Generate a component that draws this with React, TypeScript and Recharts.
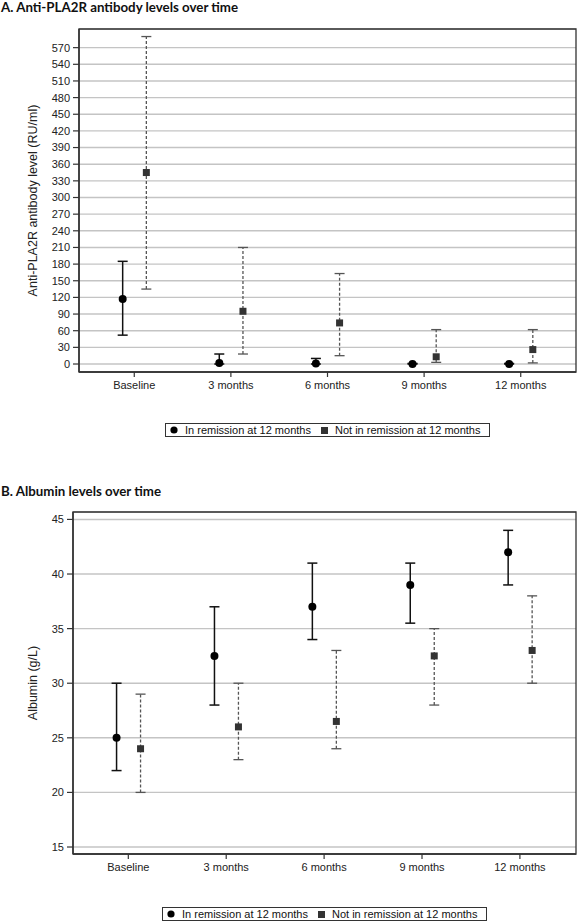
import React from 'react';
import {
  ComposedChart,
  Scatter,
  XAxis,
  YAxis,
  CartesianGrid,
  ErrorBar,
  ReferenceArea,
} from 'recharts';

const categories = ['Baseline', '3 months', '6 months', '9 months', '12 months'];
const legendLabels = ['In remission at 12 months', 'Not in remission at 12 months'];

// Panel A: Anti-PLA2R (RU/ml)
const pla2rRemission = [117, 2, 1, 0, 0];
const pla2rRemissionLow = [52, 0, 0, 0, 0];
const pla2rRemissionHigh = [185, 18, 10, 1, 1];
const pla2rNot = [345, 95, 74, 13, 26];
const pla2rNotLow = [135, 18, 15, 3, 2];
const pla2rNotHigh = [590, 210, 163, 62, 62];
const pla2rTicks = [0, 30, 60, 90, 120, 150, 180, 210, 240, 270, 300, 330, 360, 390, 420, 450, 480, 510, 540, 570];

// Panel B: Albumin (g/L)
const albRemission = [25, 32.5, 37, 39, 42];
const albRemissionLow = [22, 28, 34, 35.5, 39];
const albRemissionHigh = [30, 37, 41, 41, 44];
const albNot = [24, 26, 26.5, 32.5, 33];
const albNotLow = [20, 23, 24, 28, 30];
const albNotHigh = [29, 30, 33, 35, 38];
const albTicks = [15, 20, 25, 30, 35, 40, 45];

const catTicks = categories.map((_, i) => i);
const OFF_REM = -0.12;
const OFF_NOT = 0.125;

type Pt = { x: number; y: number; err: number[] };

const makeSeries = (vals: number[], lows: number[], highs: number[], off: number): Pt[] =>
  vals.map((v, i) => ({ x: i + off, y: v, err: [v - lows[i], highs[i] - v] }));

const makeCaps = (lows: number[], highs: number[], off: number) =>
  lows.flatMap((lo, i) => [
    { x: i + off, y: lo },
    { x: i + off, y: highs[i] },
  ]);

const FONT = '"Liberation Sans", Arial, sans-serif';

const CircleShape = (p: any) => <circle cx={p.cx} cy={p.cy} r={4} fill="#000" />;
const SquareShape = (p: any) => (
  <rect x={p.cx - 3.5} y={p.cy - 3.5} width={7} height={7} fill="#333" />
);
const CapShape = (p: any) => (
  <line x1={p.cx - 5} x2={p.cx + 5} y1={p.cy} y2={p.cy} stroke="#555" strokeWidth={1.3} />
);

type PanelProps = {
  rem: Pt[];
  not: Pt[];
  caps: { x: number; y: number }[];
  ticks: number[];
  yDomain: [number, number];
  xDomain: [number, number];
  height: number;
  marginTop: number;
  yWidth: number;
  yLabel: string;
  labelX: number;
};

function Panel(props: PanelProps) {
  const { rem, not, caps, ticks, yDomain, xDomain, height, marginTop, yWidth, yLabel, labelX } = props;
  const xAxisH = 28;
  const plotH = height - marginTop - xAxisH;
  const cy = marginTop + plotH / 2;
  const renderLabel = () => (
    <text
      x={labelX}
      y={cy}
      transform={`rotate(-90, ${labelX}, ${cy})`}
      textAnchor="middle"
      dominantBaseline="central"
      fontSize={12.5}
      fill="#222"
      fontFamily={FONT}
    >
      {yLabel}
    </text>
  );
  return (
    <ComposedChart
      width={578}
      height={height}
      margin={{ top: marginTop, right: 2, bottom: 0, left: 0 }}
      style={{ fontFamily: FONT }}
    >
      <CartesianGrid horizontal vertical={false} stroke="#c4c4c4" strokeWidth={1.4} />
      <XAxis
        type="number"
        dataKey="x"
        domain={xDomain}
        ticks={catTicks}
        allowDataOverflow
        interval={0}
        height={xAxisH}
        tickFormatter={(v: number) => categories[Math.round(v)] ?? ''}
        tick={{ fontSize: 11, fill: '#222', fontFamily: FONT }}
        tickSize={5}
        tickMargin={4}
        axisLine={{ stroke: '#333', strokeWidth: 1.5 }}
        tickLine={{ stroke: '#333', strokeWidth: 1.2 }}
      />
      <YAxis
        type="number"
        dataKey="y"
        domain={yDomain}
        ticks={ticks}
        allowDataOverflow
        interval={0}
        width={yWidth}
        tick={{ fontSize: 11, fill: '#222', fontFamily: FONT }}
        tickSize={6}
        tickMargin={3}
        axisLine={{ stroke: '#333', strokeWidth: 1.5 }}
        tickLine={{ stroke: '#333', strokeWidth: 1.2 }}
        label={renderLabel}
      />
      <ReferenceArea
        x1={xDomain[0]}
        x2={xDomain[1]}
        y1={yDomain[0]}
        y2={yDomain[1]}
        fill="none"
        stroke="#333"
        strokeWidth={1.3}
        ifOverflow="visible"
      />
      <Scatter data={caps} shape={CapShape} isAnimationActive={false} />
      <Scatter data={not} shape={SquareShape} isAnimationActive={false}>
        <ErrorBar
          dataKey="err"
          direction="y"
          width={0}
          stroke="#555"
          strokeWidth={1.3}
          strokeDasharray="3 2"
          isAnimationActive={false}
        />
      </Scatter>
      <Scatter data={rem} shape={CircleShape} isAnimationActive={false}>
        <ErrorBar
          dataKey="err"
          direction="y"
          width={5}
          stroke="#111"
          strokeWidth={1.5}
          isAnimationActive={false}
        />
      </Scatter>
    </ComposedChart>
  );
}

function LegendBox({ left, top }: { left: number; top: number }) {
  return (
    <div
      style={{
        position: 'absolute',
        left,
        top,
        width: 323,
        height: 12,
        border: '1.5px solid #333',
        display: 'flex',
        alignItems: 'center',
        fontFamily: FONT,
        fontSize: 11,
        color: '#111',
        lineHeight: '12px',
        whiteSpace: 'nowrap',
      }}
    >
      <svg width={8} height={8} style={{ marginLeft: 4, marginRight: 7 }}>
        <circle cx={4} cy={4} r={3.6} fill="#000" />
      </svg>
      <span>{legendLabels[0]}</span>
      <svg width={7} height={7} style={{ marginLeft: 10, marginRight: 7 }}>
        <rect x={0} y={0} width={7} height={7} fill="#333" />
      </svg>
      <span>{legendLabels[1]}</span>
    </div>
  );
}

const titleStyle: React.CSSProperties = {
  position: 'absolute',
  left: 1,
  fontFamily: 'Lato, "Open Sans", sans-serif',
  fontWeight: 700,
  fontSize: 13.3,
  lineHeight: '15px',
  color: '#111',
  whiteSpace: 'nowrap',
};

export default function App() {
  const remA = makeSeries(pla2rRemission, pla2rRemissionLow, pla2rRemissionHigh, OFF_REM);
  const notA = makeSeries(pla2rNot, pla2rNotLow, pla2rNotHigh, OFF_NOT);
  const capsA = makeCaps(pla2rNotLow, pla2rNotHigh, OFF_NOT);
  const remB = makeSeries(albRemission, albRemissionLow, albRemissionHigh, OFF_REM);
  const notB = makeSeries(albNot, albNotLow, albNotHigh, OFF_NOT);
  const capsB = makeCaps(albNotLow, albNotHigh, OFF_NOT);

  return (
    <div
      style={{
        position: 'absolute',
        left: 0,
        top: 0,
        width: 578,
        height: 923,
        background: '#fff',
        overflow: 'hidden',
      }}
    >
      <div style={{ position: 'absolute', left: 0, top: 0 }}>
        <Panel
          rem={remA}
          not={notA}
          caps={capsA}
          ticks={pla2rTicks}
          yDomain={[-14.4, 603.6]}
          xDomain={[-0.572, 4.572]}
          height={400}
          marginTop={29}
          yWidth={79}
          yLabel="Anti-PLA2R antibody level (RU/ml)"
          labelX={33}
        />
      </div>
      <div style={{ ...titleStyle, top: 0 }}>A. Anti-PLA2R antibody levels over time</div>
      <LegendBox left={165} top={423} />

      <div style={{ position: 'absolute', left: 0, top: 480 }}>
        <Panel
          rem={remB}
          not={notB}
          caps={capsB}
          ticks={albTicks}
          yDomain={[14.36, 45.68]}
          xDomain={[-0.565, 4.573]}
          height={402}
          marginTop={32}
          yWidth={73}
          yLabel="Albumin (g/L)"
          labelX={33}
        />
      </div>
      <div style={{ ...titleStyle, top: 484 }}>B. Albumin levels over time</div>
      <LegendBox left={162} top={907} />
    </div>
  );
}
